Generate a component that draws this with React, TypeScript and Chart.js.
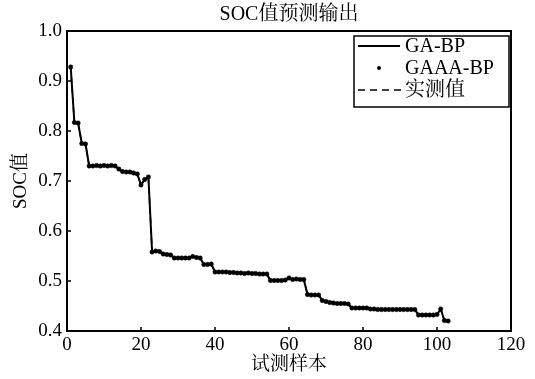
import React, { useEffect, useRef } from "react";
import { Chart, registerables } from "chart.js";

Chart.register(...registerables);

const TITLE = "SOC值预测输出";
const X_LABEL = "试测样本";
const Y_LABEL = "SOC值";
const LEGEND_LABELS = ["GA-BP", "GAAA-BP", "实测值"];
const X_TICKS = [0, 20, 40, 60, 80, 100, 120];
const Y_TICKS = [0.4, 0.5, 0.6, 0.7, 0.8, 0.9, 1.0];

const socValues = [
  0.928, 0.817, 0.816, 0.775, 0.774, 0.730, 0.730, 0.731, 0.730, 0.731,
  0.730, 0.731, 0.730, 0.724, 0.719, 0.718, 0.718, 0.716, 0.714, 0.692,
  0.703, 0.708, 0.558, 0.560, 0.559, 0.554, 0.553, 0.552, 0.546, 0.546,
  0.546, 0.546, 0.546, 0.549, 0.547, 0.546, 0.533, 0.533, 0.534, 0.518,
  0.518, 0.518, 0.518, 0.517, 0.517, 0.516, 0.516, 0.515, 0.516, 0.515,
  0.515, 0.514, 0.514, 0.514, 0.501, 0.501, 0.501, 0.501, 0.502, 0.506,
  0.503, 0.504, 0.503, 0.503, 0.473, 0.472, 0.472, 0.472, 0.461, 0.459,
  0.457, 0.456, 0.455, 0.455, 0.455, 0.454, 0.446, 0.446, 0.446, 0.446,
  0.446, 0.444, 0.444, 0.443, 0.443, 0.443, 0.443, 0.443, 0.443, 0.443,
  0.443, 0.443, 0.443, 0.443, 0.432, 0.432, 0.432, 0.432, 0.432, 0.433,
  0.444, 0.421, 0.420,
];
const sampleIndex = socValues.map((_, i) => i + 1);

const FONT = '"Liberation Serif", "Noto Serif CJK SC", "Noto Sans CJK SC", serif';

export default function App() {
  const ref = useRef<HTMLCanvasElement | null>(null);

  useEffect(() => {
    const canvas = ref.current;
    if (!canvas) return;
    const pts = sampleIndex.map((x, i) => ({ x, y: socValues[i] }));

    const framePlugin = {
      id: "frame",
      afterDraw(chart: any) {
        const ctx = chart.ctx;
        const { left, right, top, bottom } = chart.chartArea;
        const xs = chart.scales.x;
        const ys = chart.scales.y;
        ctx.save();
        ctx.strokeStyle = "#000";
        ctx.lineWidth = 2;
        ctx.strokeRect(left, top, right - left, bottom - top);
        ctx.lineWidth = 1.5;
        ctx.beginPath();
        X_TICKS.forEach((v) => {
          const px = xs.getPixelForValue(v);
          ctx.moveTo(px, bottom);
          ctx.lineTo(px, bottom - 4);
        });
        Y_TICKS.forEach((v) => {
          const py = ys.getPixelForValue(v);
          ctx.moveTo(left, py);
          ctx.lineTo(left + 4, py);
        });
        ctx.stroke();

        // title
        ctx.fillStyle = "#000";
        ctx.font = `20px ${FONT}`;
        ctx.textAlign = "center";
        ctx.textBaseline = "middle";
        ctx.fillText(TITLE, (left + right) / 2, 15);

        // legend
        const bx = 354, by = 36, bw = 155, bh = 71;
        ctx.fillStyle = "#fff";
        ctx.fillRect(bx, by, bw, bh);
        ctx.lineWidth = 1.5;
        ctx.strokeRect(bx, by, bw, bh);
        const rows = [46, 68, 90];
        ctx.lineWidth = 2;
        ctx.beginPath();
        ctx.moveTo(358, rows[0]);
        ctx.lineTo(400, rows[0]);
        ctx.stroke();
        ctx.fillStyle = "#000";
        ctx.beginPath();
        ctx.arc(379, rows[1], 2, 0, Math.PI * 2);
        ctx.fill();
        ctx.lineWidth = 1.5;
        ctx.setLineDash([7, 5]);
        ctx.beginPath();
        ctx.moveTo(358, rows[2]);
        ctx.lineTo(402, rows[2]);
        ctx.stroke();
        ctx.setLineDash([]);
        ctx.font = `20px ${FONT}`;
        ctx.textAlign = "left";
        ctx.textBaseline = "middle";
        LEGEND_LABELS.forEach((t, i) => ctx.fillText(t, 405, rows[i] + 1));
        ctx.restore();
      },
    };

    const chart = new Chart(canvas, {
      type: "scatter",
      data: {
        datasets: [
          {
            label: LEGEND_LABELS[2],
            data: pts,
            showLine: true,
            borderColor: "#000",
            borderWidth: 1.5,
            borderDash: [6, 4],
            pointRadius: 0,
            tension: 0,
          },
          {
            label: LEGEND_LABELS[0],
            data: pts,
            showLine: true,
            borderColor: "#000",
            borderWidth: 2,
            pointRadius: 0,
            tension: 0,
          },
          {
            label: LEGEND_LABELS[1],
            data: pts,
            showLine: false,
            pointStyle: "circle",
            pointRadius: 2.2,
            pointBackgroundColor: "#000",
            pointBorderColor: "#000",
            pointBorderWidth: 0.5,
          },
        ],
      },
      options: {
        responsive: false,
        animation: false,
        layout: { padding: { left: 0, right: 24, top: 31, bottom: 0 } },
        plugins: { legend: { display: false }, title: { display: false }, tooltip: { enabled: false } },
        scales: {
          x: {
            type: "linear",
            min: 0,
            max: 120,
            afterBuildTicks: (s: any) => {
              s.ticks = X_TICKS.map((v) => ({ value: v }));
            },
            afterFit: (s: any) => {
              s.height = 48;
            },
            grid: { display: false, drawTicks: false },
            border: { display: false },
            ticks: { color: "#000", font: { family: FONT, size: 19 }, padding: 3, maxRotation: 0 },
            title: { display: true, text: X_LABEL, color: "#000", font: { family: FONT, size: 19 }, padding: { top: 0, bottom: 3 } },
          },
          y: {
            type: "linear",
            min: 0.4,
            max: 1.0,
            afterBuildTicks: (s: any) => {
              s.ticks = Y_TICKS.map((v) => ({ value: v }));
            },
            afterFit: (s: any) => {
              s.width = 67;
            },
            grid: { display: false, drawTicks: false },
            border: { display: false },
            ticks: { color: "#000", font: { family: FONT, size: 19 }, padding: 5, callback: (v: any) => Number(v).toFixed(1) },
            title: { display: true, text: Y_LABEL, color: "#000", font: { family: FONT, size: 19 }, padding: { top: 10, bottom: 0 } },
          },
        },
      },
      plugins: [framePlugin],
    } as any);
    return () => chart.destroy();
  }, []);

  return (
    <div style={{ position: "absolute", left: 0, top: 0, width: 535, height: 379, background: "#fff" }}>
      <canvas ref={ref} width={535} height={379} />
    </div>
  );
}
